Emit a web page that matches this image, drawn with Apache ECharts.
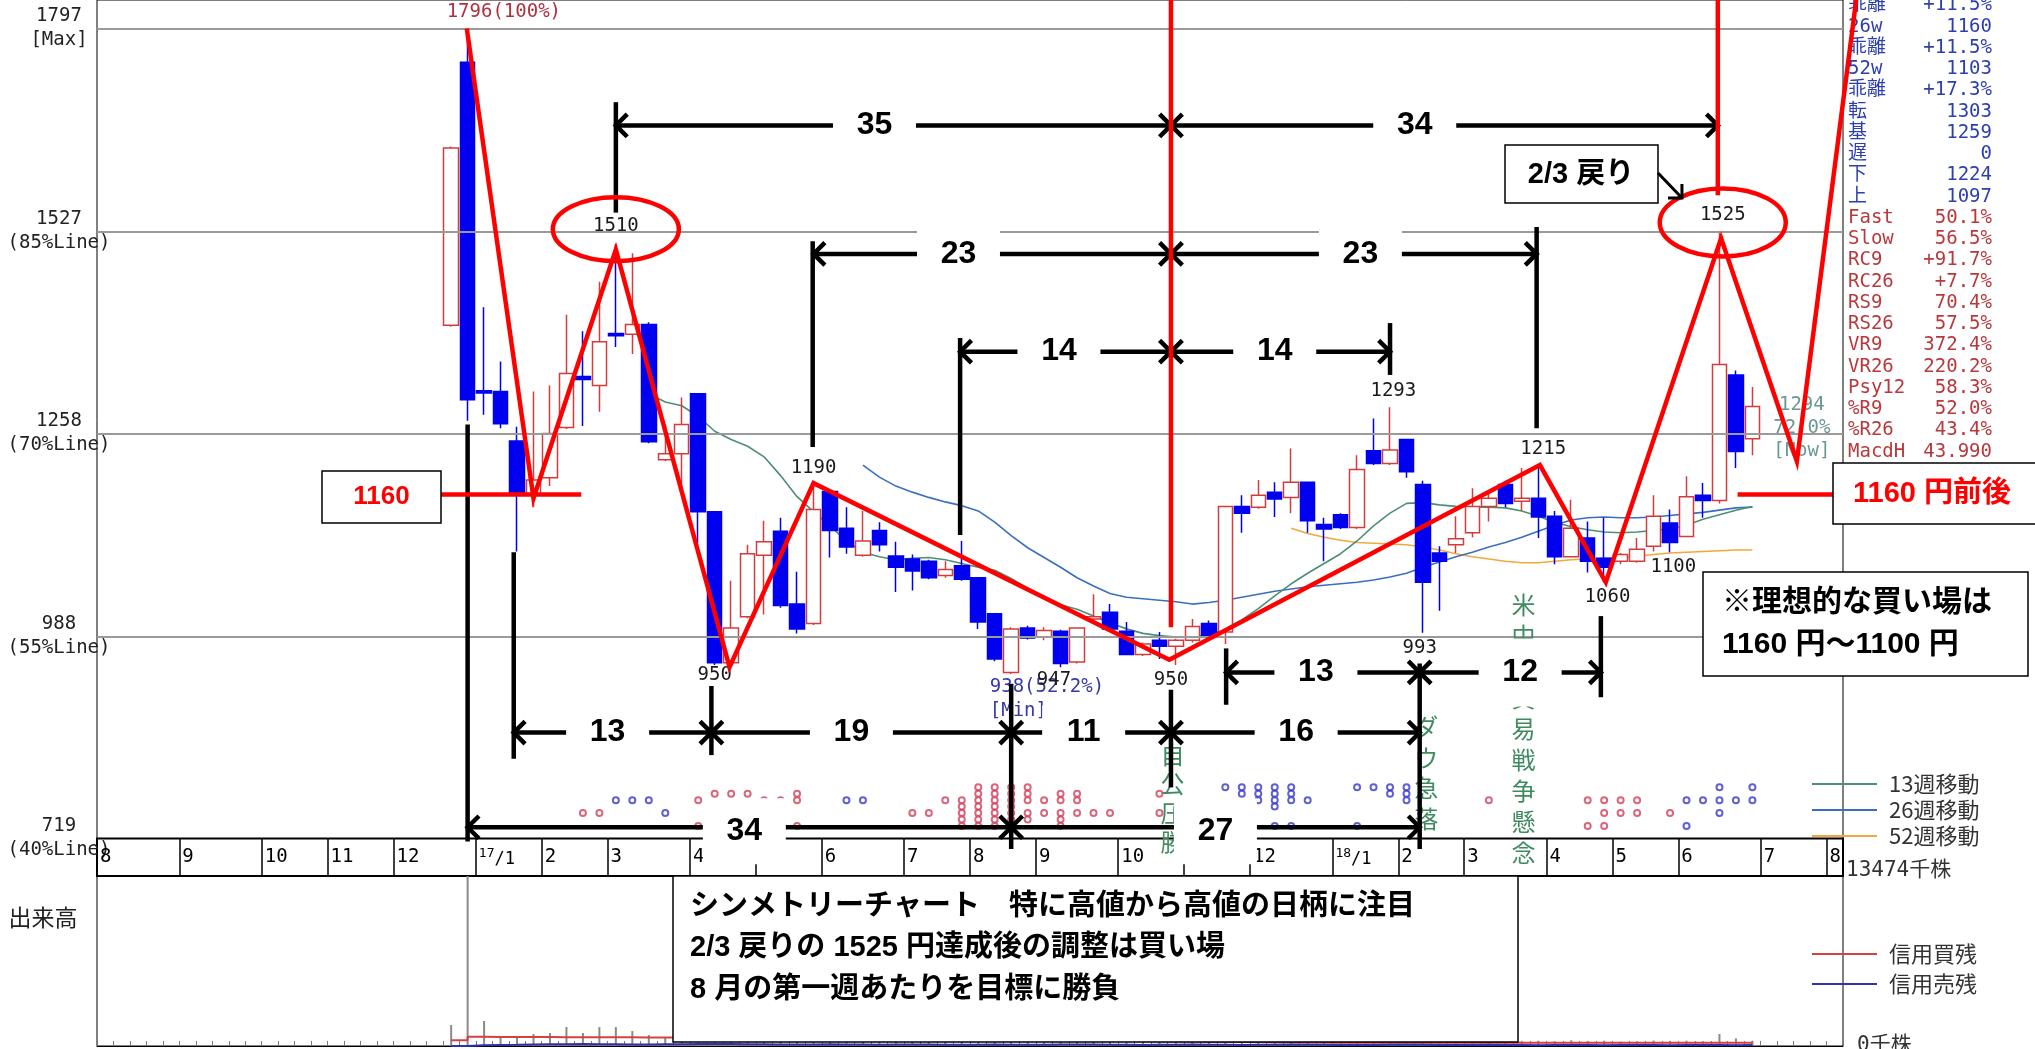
<!DOCTYPE html>
<html lang="ja"><head><meta charset="utf-8"><title>シンメトリーチャート</title>
<script src="https://cdn.jsdelivr.net/npm/echarts@6.0.0/dist/echarts.min.js"></script>
<style>html,body{margin:0;padding:0;background:#fff;overflow:hidden}#chart{width:2035px;height:1049px}</style>
</head><body><div id="chart"></div>
<script>
// ===== categories: weekly (Friday) =====
const firstWeek = '2016-07-29';
const weekCount = 106;
const categories = [];
for (let i = 0; i < weekCount; i++) {
  const d = new Date(Date.parse(firstWeek + 'T00:00:00Z') + i * 7 * 86400000);
  categories.push(d.toISOString().slice(0, 10));
}

// ===== price axis ticks =====
const priceTicks = [719, 988, 1258, 1527, 1797];
const priceTickLabels = ['719\n(40%Line)', '988\n(55%Line)', '1258\n(70%Line)', '1527\n(85%Line)', '1797\n[Max]'];

// ===== weekly candles (from 2016-12-23) =====
const candleFirstWeek = '2016-12-23';
const candleOpen = [1402,1752,1315,1314,1248,1177,1199,1266,1334,1322,
  1391,1390,1403,1223,1231,1311,1154,953,1014,1096,
  1128,1031,1005,1181,1132,1096,1129,1095,1091,1088,
  1069,1082,1066,1018,940,999,987,995,954,1011,
  1020,995,964,983,975,983,1005,994,1161,1160,
  1180,1173,1193,1137,1150,1133,1235,1218,1250,1190,
  1099,1110,1126,1161,1190,1168,1172,1148,1094,1119,
  1092,1088,1088,1108,1139,1121,1176,1169,1336,1251];
const candleClose = [1638,1303,1312,1271,1179,1196,1258,1338,1330,1380,
  1388,1403,1247,1231,1270,1154,953,999,1098,1114,
  1029,998,1157,1129,1107,1115,1110,1080,1075,1066,
  1077,1064,1007,958,998,986,996,952,999,1014,
  998,964,978,975,983,1001,987,1161,1152,1176,
  1171,1193,1142,1131,1133,1210,1218,1236,1207,1060,
  1088,1118,1161,1172,1165,1172,1147,1094,1132,1088,
  1080,1097,1104,1148,1113,1174,1169,1350,1234,1294];
const candleLow = [1400,1275,1283,1265,1101,1160,1188,1264,1268,1287,
  1373,1364,1245,1221,1185,1112,950,950,1012,1017,
  1026,992,1003,1093,1098,1094,1101,1047,1049,1064,
  1066,1062,998,955,938,984,983,947,952,1005,
  996,964,962,958,950,980,985,978,1126,1158,
  1147,1152,1126,1088,1131,1131,1216,1216,1199,993,
  1022,1099,1120,1141,1160,1155,1119,1084,1093,1073,
  1060,1084,1086,1101,1100,1121,1146,1165,1212,1229];
const candleHigh = [1640,1796,1426,1354,1267,1314,1322,1416,1394,1460,
  1510,1498,1406,1270,1306,1312,1155,1062,1110,1142,
  1146,1074,1190,1181,1160,1155,1140,1114,1097,1090,
  1088,1115,1066,1018,1000,1002,1000,997,999,1044,
  1031,1007,980,994,985,1011,1009,1161,1176,1196,
  1193,1238,1193,1146,1152,1229,1278,1293,1251,1195,
  1108,1148,1185,1183,1195,1212,1215,1155,1170,1141,
  1146,1099,1119,1176,1157,1201,1192,1525,1342,1320];

// ===== moving averages =====
const ma13FirstWeek = '2017-03-17';
const ma13 = [1311,1300,1295,1281,1261,1250,1241,1227,1202,1174,
  1154,1135,1115,1100,1094,1090,1092,1093,1090,1085,
  1080,1076,1065,1052,1040,1030,1024,1015,1006,998,
  992,989,987,987,990,998,1010,1025,1042,1058,
  1072,1085,1098,1115,1135,1152,1165,1166,1163,1161,
  1160,1160,1159,1155,1148,1140,1134,1130,1127,1126,
  1127,1129,1131,1136,1144,1150,1156,1161];
const ma26FirstWeek = '2017-06-16';
const ma26 = [1216,1200,1188,1180,1173,1167,1162,1155,1140,1122,
  1106,1093,1080,1066,1055,1045,1040,1038,1036,1034,
  1031,1033,1036,1040,1044,1048,1051,1054,1056,1058,
  1060,1063,1067,1072,1080,1087,1094,1100,1107,1113,
  1120,1128,1136,1143,1146,1147,1146,1146,1147,1149,
  1151,1153,1156,1159,1160];
const ma52FirstWeek = '2017-12-15';
const ma52 = [1132,1125,1120,1116,1113,1112,1111,1110,1107,1103,
  1098,1094,1091,1088,1086,1086,1088,1090,1091,1092,
  1093,1095,1097,1099,1100,1101,1102,1103,1103];

// ===== volume pane (千株, from 2016-12-23) =====
const volumeFirstWeek = '2016-12-23';
const volume = [1660,13474,1980,710,790,950,1030,1500,1030,1500,
  1500,1190,870,710,650,900,1100,800,700,600,
  650,700,900,600,500,450,400,500,450,400,
  380,420,600,700,650,450,400,500,450,420,
  380,400,350,380,360,420,380,900,600,550,
  480,600,500,420,380,560,600,650,500,900,
  600,450,500,420,400,400,420,380,450,400,
  420,350,380,430,400,420,380,950,600,420];
const marginBuy = [450,730,720,720,710,705,700,700,690,690,
  685,680,672,670,650,645,628,622,610,604,
  590,585,566,560,552,538,534,520,512,505,
  488,480,474,462,450,446,428,425,410,402,
  392,380,374,358,352,344,330,326,308,300,
  292,284,270,266,262,260,258,262,260,258,
  262,260,258,260,262,260,258,262,260,258,
  262,260,264,260,258,262,260,266,262,260];
const marginSell = [0,60,80,90,120,140,130,150,140,130,
  120,110,130,140,150,160,150,140,130,120,
  110,120,130,120,110,100,110,120,110,100,
  90,100,110,100,90,100,110,120,110,100,
  90,80,90,100,110,100,90,80,90,100,
  110,100,90,80,70,80,90,100,90,80,
  70,80,90,80,70,60,70,80,70,60,
  70,80,70,60,70,80,70,60,70,80];

// ===== signal circles: [week index, row] =====
const signalRed = [[29,4],[30,4],[36,2],[36,6],[37,1],[38,1],[39,1],[40,2],[41,2],[42,1],[42,2],[42,6],
  [49,4],[50,4],[51,2],[52,2],[52,3],[52,4],[52,5],[52,6],
  [53,0],[53,1],[53,2],[53,3],[53,4],[53,5],[53,6],[54,0],[54,1],[54,2],[54,3],[54,4],[54,5],[54,6],
  [55,0],[55,1],[55,2],[55,3],[55,4],[55,5],[56,0],[56,1],[56,2],[56,4],[56,5],[57,2],[57,4],
  [58,1],[58,2],[58,4],[58,5],[58,6],[59,1],[59,2],[59,4],[60,4],[61,4],[64,1],[64,4],
  [84,2],[90,2],[90,6],[91,2],[91,4],[91,6],[92,2],[92,4],[93,2],[93,4],[95,4]];
const signalBlue = [[31,2],[32,2],[33,2],[34,4],[45,2],[46,2],[68,0],[69,0],[69,1],[70,0],[70,1],[70,2],
  [71,0],[71,1],[71,2],[71,3],[71,6],[72,0],[72,1],[72,2],[72,6],[73,2],[76,0],[76,6],[77,0],
  [78,0],[78,1],[79,0],[79,1],[79,2],[96,2],[96,6],[97,2],[98,0],[98,2],[98,4],[99,2],[100,0],[100,2]];

// ===== right info panel =====
const panelLabels = ['乖離','26w','乖離','52w','乖離','転','基','遅','下','上','Fast','Slow','RC9','RC26','RS9','RS26','VR9','VR26','Psy12','%R9','%R26','MacdH'];
const panelValues = ['+11.5%','1160','+11.5%','1103','+17.3%','1303','1259','0','1224','1097','50.1%','56.5%','+91.7%','+7.7%','70.4%','57.5%','372.4%','220.2%','58.3%','52.0%','43.4%','43.990'];

// ===== annotations (week index, price) =====
const zigzag = [[21.95,1797],[26,1172],[31,1503],[37.9,947],[43,1192],[64.6,957],[87.1,1216],[91.1,1060],[98.1,1518],[102.7,1221],[106.3,1835]];
const redVerticals = [[64.7,1835,1000],[97.9,1835,1575]];
const redEllipses = [[31,1530,63,32],[98.2,1539,63,34]];
const tickLines = [[31,1699,1552],[42.95,1514,1240],[86.9,1533,1265],[51.9,1385,1123],[78.0,1405,1336],
  [24.8,1100,825],[36.8,922,830],[55,925,705],[64.7,917,787],[68.05,972,897],[79.8,952,705],[90.8,1015,907],[22,1270,715]];
const arrows = [
  {a:31, b:64.7, p:1668, t:'35', at:46.7, h:50},
  {a:64.7, b:97.9, p:1668, t:'34', at:79.5, h:50},
  {a:43, b:64.7, p:1497, t:'23', at:51.8, h:50},
  {a:64.7, b:86.9, p:1497, t:'23', at:76.2, h:50},
  {a:51.9, b:64.7, p:1367, t:'14', at:57.9, h:50},
  {a:64.7, b:78.0, p:1367, t:'14', at:71.0, h:50},
  {a:68.05, b:79.8, p:940, t:'13', at:73.5, h:68},
  {a:79.8, b:90.8, p:940, t:'12', at:85.9, h:68},
  {a:24.8, b:36.8, p:860, t:'13', at:30.5, h:54},
  {a:36.8, b:55, p:860, t:'19', at:45.3, h:54},
  {a:55, b:64.7, p:860, t:'11', at:59.4, h:54},
  {a:64.7, b:79.8, p:860, t:'16', at:72.3, h:54},
  {a:22, b:55, p:734, t:'34', at:38.8, h:66, dy:4},
  {a:55, b:79.8, p:734, t:'27', at:67.4, h:66, dy:4}
];
const valueLabels = [
  {i:24.2, p:1819, t:'1796(100%)', c:'#b03040'},
  {i:31, p:1534, t:'1510'},
  {i:37, p:937, t:'950'},
  {i:43, p:1212, t:'1190'},
  {i:53.7, p:921, t:'938(52.2%)', c:'#3838a8', align:'left'},
  {i:53.7, p:889, t:'[Min]', c:'#3838a8', align:'left'},
  {i:57.6, p:930, t:'947'},
  {i:64.7, p:930, t:'950'},
  {i:78.2, p:1315, t:'1293'},
  {i:79.8, p:973, t:'993'},
  {i:87.3, p:1237, t:'1215'},
  {i:91.2, p:1040, t:'1060'},
  {i:95.2, p:1080, t:'1100'},
  {i:98.2, p:1549, t:'1525'},
  {i:103, p:1296, t:'1294', c:'#6a9896'},
  {i:103, p:1265, t:'72.0%', c:'#6a9896'},
  {i:103, p:1234, t:'[Now]', c:'#6a9896'}
];
const eventNotes = [
  {i:64.8, p:830, text:'自公圧勝', step:29},
  {i:80.2, p:867, text:'ダウ急落', step:30.5},
  {i:86.1, p:1029.5, text:'米中', step:31},
  {i:86.1, p:906, text:'貿易戦争懸念', step:31}
];

// ===== build =====
const N = categories.length;
const idxOf = d => categories.indexOf(d);
function spread(first, arr) {
  const out = new Array(N).fill(null);
  const s = idxOf(first);
  arr.forEach((v, k) => { if (s + k < N) out[s + k] = v; });
  return out;
}
const cs = idxOf(candleFirstWeek);
const candleData = candleOpen.map((o, k) => [cs + k, o, candleClose[k], candleLow[k], candleHigh[k]]);
const vs = idxOf(volumeFirstWeek);
const volData = volume.map((v, k) => [vs + k, v]);
const buyData = marginBuy.map((v, k) => [vs + k, v]);
const sellData = marginSell.map((v, k) => [vs + k, v]);
const signalBase = 787.2, signalStep = 8.58;
const rowPrice = r => signalBase - r * signalStep;

const weekMonth = i => +categories[i === 0 ? 1 : i].slice(5, 7);
const monthStarts = [];
for (let i = 0; i < N; i++) if (i === 0 || weekMonth(i) !== weekMonth(i - 1)) monthStarts.push(i);

const C13 = '#4d8f72', C26 = '#3a6fc0', C52 = '#f0aa3c';
const MONO = '"DejaVu Sans Mono", "Noto Sans CJK JP", monospace';
const CJK = '"Noto Sans CJK JP", sans-serif';
const BOLD = '"Liberation Sans", "Noto Sans CJK JP", sans-serif';

const L = 97, W = 1746;
const chart = echarts.init(document.getElementById('chart'));
chart.setOption({
  animation: false,
  backgroundColor: '#ffffff',
  textStyle: {fontFamily: MONO},
  grid: [
    {left: L, top: 0, width: W, height: 838.5, show: true, borderColor: '#000', borderWidth: 1, outerBoundsMode: 'none'},
    {left: L, top: 838.5, width: W, height: 37.5, show: true, borderColor: '#000', borderWidth: 2, outerBoundsMode: 'none'},
    {left: L, top: 876, width: W, height: 170, show: true, borderColor: '#000', borderWidth: 1, outerBoundsMode: 'none'}
  ],
  xAxis: [
    {type: 'category', gridIndex: 0, data: categories, boundaryGap: true,
      axisLine: {show: false}, axisTick: {show: false}, axisLabel: {show: false}, splitLine: {show: false}},
    {type: 'value', gridIndex: 1, min: 0, max: N, interval: 1,
      axisLine: {show: false}, axisTick: {show: false}, splitLine: {show: false},
      axisLabel: {inside: true, margin: 19, align: 'left', verticalAlign: 'middle', padding: [0, 0, 0, 3],
        fontFamily: MONO, fontSize: 19, color: '#000', showMinLabel: true, showMaxLabel: true,
        formatter: v => {
          const i = Math.round(v);
          if (Math.abs(v - i) > 1e-6 || monthStarts.indexOf(i) < 0) return '';
          const m = weekMonth(i);
          return m === 1 ? '{y|' + categories[i].slice(2, 4) + '}{m|/1}' : String(m);
        },
        rich: {y: {fontSize: 13, fontFamily: MONO, color: '#000', padding: [0, 0, 6, 0]}, m: {fontSize: 17, fontFamily: MONO, color: '#000', padding: [6, 0, 0, 0]}}}},
    {type: 'category', gridIndex: 2, data: categories, boundaryGap: true,
      axisLine: {show: true, lineStyle: {color: '#000', width: 1}},
      axisTick: {show: true, interval: 0, inside: true, length: 5, lineStyle: {color: '#777'}},
      axisLabel: {show: false}, splitLine: {show: false}}
  ],
  yAxis: [
    {type: 'value', gridIndex: 0, min: 719, max: 1835,
      axisLine: {show: false}, axisTick: {show: false}, splitLine: {show: false},
      axisLabel: {customValues: priceTicks, showMinLabel: true, showMaxLabel: true,
        formatter: v => { const k = priceTicks.indexOf(v); return k < 0 ? '' : priceTickLabels[k]; },
        align: 'center', margin: 38, fontFamily: MONO, fontSize: 19, lineHeight: 24, color: '#222'}},
    {type: 'value', gridIndex: 1, min: 0, max: 1, show: false},
    {type: 'value', gridIndex: 2, min: 0, max: 13474, show: false}
  ],
  legend: [
    {data: ['13週移動', '26週移動', '52週移動'], left: 1807, top: 766, orient: 'vertical', itemWidth: 65, itemHeight: 2,
      icon: 'rect', itemGap: 0, selectedMode: false, textStyle: {fontFamily: CJK, fontSize: 22, color: '#333', padding: [0, 0, 0, 7], lineHeight: 26}},
    {data: ['信用買残', '信用売残'], left: 1807, top: 936, orient: 'vertical', itemWidth: 65, itemHeight: 2,
      icon: 'rect', itemGap: 4, selectedMode: false, textStyle: {fontFamily: CJK, fontSize: 22, color: '#333', padding: [0, 0, 0, 7], lineHeight: 26}}
  ],
  series: [
    {name: '52週移動', type: 'line', xAxisIndex: 0, yAxisIndex: 0, data: spread(ma52FirstWeek, ma52), color: C52,
      showSymbol: false, lineStyle: {width: 1.6, color: C52}, z: 2, silent: true,
      markLine: {silent: true, symbol: ['none', 'none'], label: {show: false}, animation: false,
        lineStyle: {color: '#9a9a9a', width: 2, type: 'solid'},
        data: priceTicks.slice(1).map(v => ({yAxis: v}))}},
    {name: '26週移動', type: 'line', xAxisIndex: 0, yAxisIndex: 0, data: spread(ma26FirstWeek, ma26), color: C26,
      showSymbol: false, lineStyle: {width: 1.6, color: C26}, z: 2, silent: true},
    {name: '13週移動', type: 'line', xAxisIndex: 0, yAxisIndex: 0, data: spread(ma13FirstWeek, ma13), color: C13,
      showSymbol: false, lineStyle: {width: 1.6, color: C13}, z: 2, silent: true},
    {name: '株価', type: 'candlestick', xAxisIndex: 0, yAxisIndex: 0, data: candleData, encode: {x: 0, y: [1, 2, 3, 4]},
      barWidth: 15, z: 3, silent: true,
      itemStyle: {color: '#ffffff', color0: '#0000f0', borderColor: '#d23c3c', borderColor0: '#0000f0', borderWidth: 1.5}},
    {name: 'sigR', type: 'scatter', xAxisIndex: 0, yAxisIndex: 0, data: signalRed.map(d => [d[0], rowPrice(d[1])]),
      symbol: 'emptyCircle', symbolSize: 6, itemStyle: {color: '#d0405a', borderColor: '#d0405a', borderWidth: 1.3}, z: 4, silent: true},
    {name: 'sigB', type: 'scatter', xAxisIndex: 0, yAxisIndex: 0, data: signalBlue.map(d => [d[0], rowPrice(d[1])]),
      symbol: 'emptyCircle', symbolSize: 6, itemStyle: {color: '#3838c8', borderColor: '#3838c8', borderWidth: 1.3}, z: 4, silent: true},
    {name: 'months', type: 'line', xAxisIndex: 1, yAxisIndex: 1, data: [[0, 0]], showSymbol: false, lineStyle: {width: 0}, silent: true,
      markLine: {silent: true, symbol: ['none', 'none'], label: {show: false}, animation: false,
        lineStyle: {color: '#000', width: 1.5, type: 'solid'}, data: monthStarts.slice(1).map(i => ({xAxis: i}))}},
    {name: '出来高', type: 'bar', xAxisIndex: 2, yAxisIndex: 2, data: volData, barWidth: 2, itemStyle: {color: '#8a8a8a'}, silent: true},
    {name: '信用買残', type: 'line', step: 'end', xAxisIndex: 2, yAxisIndex: 2, data: buyData, color: '#d84040',
      showSymbol: false, lineStyle: {width: 2, color: '#d84040'}, silent: true},
    {name: '信用売残', type: 'line', step: 'end', xAxisIndex: 2, yAxisIndex: 2, data: sellData, color: '#3030b0',
      showSymbol: false, lineStyle: {width: 2, color: '#3030b0'}, silent: true}
  ]
});

// ===== overlays =====
function xy(i, p) {
  const a = chart.convertToPixel({xAxisIndex: 0, yAxisIndex: 0}, [0, p]);
  const b = chart.convertToPixel({xAxisIndex: 0, yAxisIndex: 0}, [1, p]);
  return [a[0] + i * (b[0] - a[0]), a[1]];
}
const G = [];
const add = el => { el.silent = true; G.push(el); };
const seg = (x1, y1, x2, y2, color, w, z) => add({type: 'line', z, shape: {x1, y1, x2, y2}, style: {stroke: color, lineWidth: w}});
const txt = (x, y, t, font, fill, align, z, va) => add({type: 'text', z, x, y, style: {text: t, font, fill, align: align || 'center', verticalAlign: va || 'middle'}});
const box = (x, y, w, h, z, stroke, lw) => add({type: 'rect', z, shape: {x, y, width: w, height: h}, style: {fill: '#fff', stroke: stroke || null, lineWidth: lw || 0}});
function head(tx, ty, ux, uy, len, w, color, z) {
  const th = 0.78;
  const r = (c, s) => [tx - len * (ux * c - uy * s), ty - len * (uy * c + ux * s)];
  add({type: 'polyline', z, shape: {points: [r(Math.cos(th), Math.sin(th)), [tx, ty], r(Math.cos(th), -Math.sin(th))]},
    style: {stroke: color, lineWidth: w, fill: 'none', lineJoin: 'miter'}});
}

// value labels
valueLabels.forEach(l => { const [x, y] = xy(l.i, l.p); txt(x, y, l.t, '19px ' + MONO, l.c || '#1a1a1a', l.align, 40); });
// event notes (vertical)
eventNotes.forEach(e => { const [x, y0] = xy(e.i, e.p); Array.from(e.text).forEach((ch, k) => txt(x, y0 + k * e.step, ch, '24px ' + CJK, '#3f8a5f', 'center', 41)); });
// black tick lines
tickLines.forEach(([i, p1, p2]) => { const [x, y1] = xy(i, p1); const y2 = xy(i, p2)[1]; seg(x, y1, x, y2, '#000', 4.5, 42); });
// black arrows
arrows.forEach(a => {
  const [x1, y] = xy(a.a, a.p); const x2 = xy(a.b, a.p)[0];
  seg(x1, y, x2, y, '#000', 4.5, 42);
  head(x1, y, -1, 0, 16, 4.5, '#000', 42);
  head(x2, y, 1, 0, 16, 4.5, '#000', 42);
});
// red annotation lines
add({type: 'polyline', z: 44, shape: {points: zigzag.map(v => xy(v[0], v[1]))}, style: {stroke: '#ff0000', lineWidth: 4.5, fill: 'none', lineJoin: 'miter'}});
redVerticals.forEach(([i, p1, p2]) => { const [x, y1] = xy(i, p1); seg(x, y1, x, xy(i, p2)[1], '#ff0000', 4.5, 44); });
redEllipses.forEach(([i, p, rx, ry]) => { const [cx, cy] = xy(i, p); add({type: 'ellipse', z: 44, shape: {cx, cy, rx, ry}, style: {fill: 'none', stroke: '#ff0000', lineWidth: 4.5}}); });
{ const y = xy(0, 1177)[1]; seg(441, y, xy(28.9, 1177)[0], y, '#ff0000', 4.5, 44); seg(xy(99.1, 1177)[0], y, 1833, y, '#ff0000', 4.5, 44); }
// arrow number labels with white backing
arrows.forEach(a => {
  const [xl, y] = xy(a.at, a.p); const yc = y + (a.dy || 0);
  box(xl - 41.5, yc - a.h / 2, 83, a.h, 46);
  txt(xl, yc, a.t, 'bold 32px ' + BOLD, '#000', 'center', 47);
});
// text boxes
box(322, 471, 119, 52, 48, '#000', 1.5); txt(381.5, 497, '1160', 'bold 26px ' + BOLD, '#ff0000', 'center', 49);
box(1833, 463, 215, 61, 48, '#000', 1.5); txt(1853, 494, '1160 円前後', 'bold 29px ' + BOLD, '#ff0000', 'left', 49);
box(1505, 145, 153, 58, 48, '#000', 1.5); txt(1581, 175, '2/3 戻り', 'bold 29px ' + BOLD, '#000', 'center', 49);
seg(1658, 173, 1682, 198, '#000', 3, 49); head(1682, 198, Math.SQRT1_2, Math.SQRT1_2, 14, 3, '#000', 49);
box(1703, 572, 325, 104, 48, '#000', 1.5);
txt(1722, 603, '※理想的な買い場は', 'bold 30px ' + BOLD, '#000', 'left', 49);
txt(1722, 645, '1160 円～1100 円', 'bold 30px ' + BOLD, '#000', 'left', 49);
box(673, 876, 845, 166, 48, '#000', 1.5);
txt(690, 907, 'シンメトリーチャート　特に高値から高値の日柄に注目', 'bold 29px ' + BOLD, '#000', 'left', 49);
txt(690, 948, '2/3 戻りの 1525 円達成後の調整は買い場', 'bold 29px ' + BOLD, '#000', 'left', 49);
txt(690, 990, '8 月の第一週あたりを目標に勝負', 'bold 29px ' + BOLD, '#000', 'left', 49);
// side panel
panelLabels.forEach((lab, k) => {
  const y = 5.5 + 21.25 * k; const col = k < 10 ? '#2b3fae' : '#b8383c';
  txt(1848, y, lab, '19px ' + MONO, col, 'left', 39);
  txt(1992, y, panelValues[k], '19px ' + MONO, col, 'right', 39);
});
txt(1846, 871, '13474千株', '21px ' + MONO, '#333', 'left', 39);
txt(1857, 1046, '0千株', '21px ' + MONO, '#333', 'left', 39);
txt(43, 917, '出来高', '23px ' + CJK, '#222', 'center', 39);
chart.setOption({graphic: {elements: G}});
</script>
</body></html>
